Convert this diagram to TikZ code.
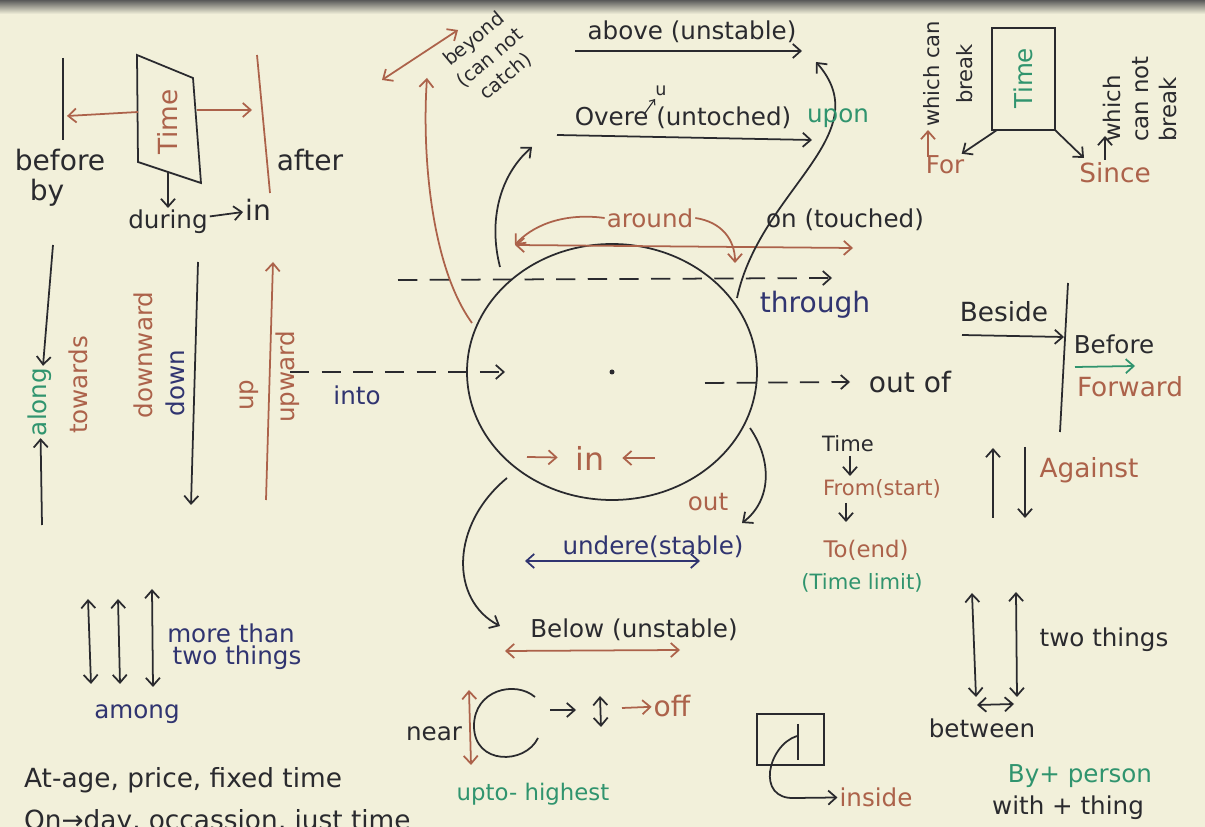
\documentclass[tikz,border=0pt]{standalone}
\usepackage{fontspec}
\setmainfont{DejaVu Sans}
\usepackage{tikz}
\usetikzlibrary{arrows.meta, positioning}

\definecolor{paper}{RGB}{242,240,218}
\definecolor{ink}{RGB}{42,42,46}
\definecolor{brownink}{RGB}{172,98,74}
\definecolor{blueink}{RGB}{48,52,112}
\definecolor{greenink}{RGB}{48,148,110}

\begin{document}
\begin{tikzpicture}[
    x=0.02cm, y=-0.02cm,
    every node/.style={font=\fontsize{14}{16}\selectfont, inner sep=1pt, text=ink},
    big/.style={font=\fontsize{16}{18}\selectfont},
    small/.style={font=\fontsize{12}{15}\selectfont},
    brn/.style={text=brownink},
    blu/.style={text=blueink},
    grn/.style={text=greenink},
    pen/.style={draw=ink, line width=1pt},
    arrow/.style={pen, -{Straight Barb[length=4.5pt,width=8pt]}},
    biarrow/.style={pen, {Straight Barb[length=4.5pt,width=8pt]}-{Straight Barb[length=4.5pt,width=8pt]}},
    dashline/.style={arrow, dash pattern=on 11pt off 7pt}
  ]

  \fill[paper] (0,0) rectangle (1205,827);
  \shade[top color=black!65, bottom color=paper] (0,0) rectangle (1205,14);
  \useasboundingbox (0,0) rectangle (1205,827);

  % before / after / during
  \coordinate (pa) at (137,55);
  \coordinate (pb) at (193,78);
  \coordinate (pc) at (201,183);
  \coordinate (pd) at (138,162);
  \draw[pen] (pa) -- (pb) -- (pc) -- (pd) -- cycle;
  \node[brn, font=\fontsize{15}{17}\selectfont, rotate=90] (time) at (168,122) {Time};
  \coordinate (tl) at (138,112);
  \coordinate (tlx) at (67,116);
  \coordinate (tr) at (197,110);
  \coordinate (trx) at (252,110);
  \coordinate (tb) at (168,172);
  \coordinate (bf1) at (63,58);
  \coordinate (bf2) at (63,140);
  \coordinate (af1) at (257,55);
  \coordinate (af2) at (270,193);
  \draw[pen] (bf1) -- (bf2);
  \draw[pen, draw=brownink] (af1) -- (af2);
  \draw[arrow, draw=brownink] (tl) -- (tlx);
  \draw[arrow, draw=brownink] (tr) -- (trx);
  \node[big] (before) at (60,160) {before};
  \node[big] (by) at (47,193) {by};
  \node[big] (after) at (310,160) {after};
  \node (during) at (168,222) {during};
  \node[big] (in1) at (258,210) {in};
  \draw[arrow] (tb) -- (during);
  \draw[arrow] (during) -- (in1);

  % left verticals
  \coordinate (al1) at (53,245);
  \coordinate (al3) at (42,525);
  \node[grn, rotate=90] (along) at (40,402) {along};
  \draw[arrow] (al1) -- (along);
  \draw[arrow] (al3) -- (along);
  \node[brn, rotate=90] (towards) at (78,385) {towards};
  \node[brn, rotate=90] (downward) at (143,355) {downward};
  \node[blu, rotate=90] (down) at (175,383) {down};
  \coordinate (dn1) at (198,262);
  \coordinate (dn2) at (191,505);
  \draw[arrow] (dn1) -- (dn2);
  \node[brn, rotate=90] (up) at (249,395) {up};
  \node[brn, rotate=90] (upward) at (288,377) {upward};
  \coordinate (up1) at (266,500);
  \coordinate (up2) at (273,262);
  \draw[arrow, draw=brownink] (up1) -- (up2);
  \coordinate (into1) at (290,372);
  \coordinate (into2) at (505,372);
  \draw[dashline] (into1) -- (into2);
  \node[blu] (into) at (357,395) {into};

  % circle
  \coordinate (ctr) at (612,372);
  \draw[pen] (ctr) ellipse [x radius=145, y radius=128];
  \fill[ink] (ctr) circle [radius=2.5];

  \coordinate (th1) at (398,280);
  \coordinate (th2) at (832,278);
  \draw[dashline] (th1) -- (th2);
  \node[blu, big] (through) at (815,305) {through};

  \coordinate (ar1) at (515,245);
  \coordinate (ar2) at (853,248);
  \coordinate (ar3) at (735,263);
  \draw[biarrow, draw=brownink] (ar1) -- (ar2);
  \node[brn] (around) at (650,218) {around};
  \draw[arrow, draw=brownink] (around.west) .. controls (560,212) and (530,228) .. (ar1);
  \draw[arrow, draw=brownink] (around.east) .. controls (722,222) and (735,240) .. (ar3);

  \node (on) at (845,220) {on (touched)};
  \coordinate (on1) at (737,298);
  \coordinate (on2) at (816,62);
  \draw[arrow] (on1) .. controls (760,190) and (880,135) .. (on2);

  \node (above) at (692,32) {above (unstable)};
  \coordinate (ab1) at (575,51);
  \coordinate (ab2) at (802,51);
  \draw[arrow] (ab1) -- (ab2);

  \node (over) at (683,118) {Overe (untoched)};
  \node[grn] (upon) at (838,118) {upon};
  \node[font=\fontsize{10}{12}\selectfont] (uins) at (661,91) {u};
  \coordinate (uc1) at (645,113);
  \coordinate (uc2) at (655,99);
  \draw[pen, line width=0.6pt, -{Straight Barb[length=2.5pt,width=4pt]}] (uc1) -- (uc2);
  \coordinate (ov1) at (557,135);
  \coordinate (ov2) at (812,140);
  \draw[arrow] (ov1) -- (ov2);
  \coordinate (c1) at (500,267);
  \coordinate (c2) at (532,147);
  \draw[arrow] (c1) .. controls (488,220) and (500,175) .. (c2);

  \node[rotate=40, align=center, font=\fontsize{11}{14}\selectfont] (beyond) at (490,58) {beyond\\(can not\\catch)};
  \coordinate (by1) at (382,80);
  \coordinate (by2) at (458,30);
  \draw[biarrow, draw=brownink] (by1) -- (by2);
  \coordinate (bc1) at (472,323);
  \coordinate (bc2) at (427,78);
  \draw[arrow, draw=brownink] (bc1) .. controls (430,265) and (422,150) .. (bc2);

  \coordinate (of1) at (705,383);
  \coordinate (of2) at (850,382);
  \draw[dashline] (of1) -- (of2);
  \node[big] (outof) at (910,382) {out of};

  \node[brn, font=\fontsize{18}{20}\selectfont] (in2) at (590,458) {in};
  \coordinate (ia) at (527,457);
  \coordinate (ib) at (655,458);
  \draw[arrow, draw=brownink, shorten >=9pt] (ia) -- (in2);
  \draw[arrow, draw=brownink, shorten >=9pt] (ib) -- (in2);

  \coordinate (ou1) at (750,428);
  \coordinate (ou2) at (742,523);
  \draw[arrow] (ou1) .. controls (772,460) and (772,500) .. (ou2);
  \node[brn] (out) at (708,502) {out};

  \coordinate (bl1) at (507,478);
  \coordinate (bl2) at (500,626);
  \draw[arrow] (bl1) .. controls (450,525) and (450,600) .. (bl2);

  \node[blu] (under) at (653,547) {undere(stable)};
  \coordinate (un1) at (525,561);
  \coordinate (un2) at (700,561);
  \draw[biarrow, draw=blueink] (un1) -- (un2);

  \node (below) at (634,630) {Below (unstable)};
  \coordinate (be1) at (505,651);
  \coordinate (be2) at (680,650);
  \draw[biarrow, draw=brownink] (be1) -- (be2);

  % near / off / upto
  \coordinate (ne1) at (469,690);
  \coordinate (ne2) at (471,765);
  \draw[biarrow, draw=brownink] (ne1) -- (ne2);
  \node (near) at (434,734) {near};
  \coordinate (ca) at (535,697);
  \coordinate (cb) at (538,738);
  \draw[pen] (ca) .. controls (515,680) and (474,690) .. (474,726) .. controls (474,765) and (525,765) .. (cb);
  \coordinate (na1) at (550,710);
  \coordinate (na2) at (576,710);
  \draw[arrow] (na1) -- (na2);
  \coordinate (ud1) at (600,696);
  \coordinate (ud2) at (601,727);
  \draw[biarrow] (ud1) -- (ud2);
  \node[brn, big] (off) at (672,706) {off};
  \coordinate (of3) at (622,708);
  \draw[arrow, draw=brownink] (of3) -- (off);
  \node[grn, font=\fontsize{13}{15}\selectfont] (upto) at (533,794) {upto- highest};

  % inside
  \coordinate (ib1) at (757,714);
  \coordinate (ib2) at (824,765);
  \draw[pen] (ib1) rectangle (ib2);
  \coordinate (iv1) at (798,724);
  \coordinate (iv2) at (798,760);
  \draw[pen] (iv1) -- (iv2);
  \node[brn] (inside) at (876,797) {inside};
  \coordinate (is1) at (797,736);
  \draw[arrow] (is1) .. controls (768,745) and (755,800) .. (795,798) -- (inside);

  % for / since
  \coordinate (ra) at (992,28);
  \coordinate (rb) at (1055,130);
  \draw[pen] (ra) rectangle (rb);
  \node[grn, rotate=90] (time2) at (1023,78) {Time};
  \coordinate (rbl) at (997,130);
  \coordinate (rbr) at (1055,130);
  \node[brn] (for) at (945,165) {For};
  \draw[arrow] (rbl) -- (for);
  \coordinate (f1) at (928,157);
  \coordinate (f2) at (928,130);
  \draw[arrow, draw=brownink] (f1) -- (f2);
  \node[small, rotate=90, align=center, font=\fontsize{12}{19}\selectfont] (wcb) at (948,74) {which can\\break};
  \node[brn, font=\fontsize{15}{17}\selectfont] (since) at (1115,173) {Since};
  \coordinate (sn) at (1084,158);
  \draw[arrow] (rbr) -- (sn);
  \coordinate (s1) at (1105,160);
  \coordinate (s2) at (1105,136);
  \draw[arrow] (s1) -- (s2);
  \node[rotate=90, align=left, font=\fontsize{13}{16}\selectfont] (wcnb) at (1140,99) {which\\can not\\break};

  % beside / before / forward
  \node[font=\fontsize{15}{17}\selectfont] (beside) at (1004,312) {Beside};
  \coordinate (bs1) at (962,335);
  \coordinate (bs2) at (1064,337);
  \draw[arrow] (bs1) -- (bs2);
  \coordinate (vl1) at (1068,283);
  \coordinate (vl2) at (1060,432);
  \draw[pen] (vl1) -- (vl2);
  \node (before2) at (1114,344) {Before};
  \coordinate (fw1) at (1075,367);
  \coordinate (fw2) at (1135,366);
  \draw[arrow, draw=greenink] (fw1) -- (fw2);
  \node[brn, font=\fontsize{15}{17}\selectfont] (forward) at (1130,387) {Forward};

  % against
  \coordinate (ag1) at (993,518);
  \coordinate (ag2) at (993,448);
  \coordinate (ag3) at (1025,447);
  \coordinate (ag4) at (1025,518);
  \draw[arrow] (ag1) -- (ag2);
  \draw[arrow] (ag3) -- (ag4);
  \node[brn, font=\fontsize{15}{17}\selectfont] (against) at (1089,470) {Against};

  % from / to
  \node[small] (time3) at (848,444) {Time};
  \node[brn, small] (from) at (882,489) {From(start)};
  \node[brn, font=\fontsize{13}{15}\selectfont] (to) at (866,550) {To(end)};
  \node[grn, small] (limit) at (862,583) {(Time limit)};
  \coordinate (tf1) at (850,456);
  \coordinate (tf2) at (850,476);
  \coordinate (tf3) at (846,503);
  \coordinate (tf4) at (846,522);
  \draw[arrow] (tf1) -- (tf2);
  \draw[arrow] (tf3) -- (tf4);

  % between
  \coordinate (bw1) at (972,593);
  \coordinate (bw2) at (976,697);
  \coordinate (bw3) at (1016,592);
  \coordinate (bw4) at (1017,697);
  \coordinate (bw5) at (977,705);
  \coordinate (bw6) at (1014,704);
  \draw[biarrow] (bw1) -- (bw2);
  \draw[biarrow] (bw3) -- (bw4);
  \draw[biarrow] (bw5) -- (bw6);
  \node (twothings) at (1104,640) {two things};
  \node (between) at (982,728) {between};
  \node[grn] (byperson) at (1080,776) {By+ person};
  \node (withthing) at (1068,808) {with + thing};

  % among
  \coordinate (am1) at (88,599);
  \coordinate (am2) at (91,684);
  \coordinate (am3) at (118,599);
  \coordinate (am4) at (120,684);
  \coordinate (am5) at (152,589);
  \coordinate (am6) at (153,687);
  \draw[biarrow] (am1) -- (am2);
  \draw[biarrow] (am3) -- (am4);
  \draw[biarrow] (am5) -- (am6);
  \node[blu] (more) at (231,633) {more than};
  \node[blu] (two) at (237,658) {two things};
  \node[blu] (among) at (137,714) {among};

  % at / on
  \node[anchor=west, font=\fontsize{15}{17}\selectfont] (atline) at (22,780) {At-age, price, fixed time};
  \node[anchor=west, font=\fontsize{15}{17}\selectfont] (online) at (22,822) {On→day, occassion, just time};

\end{tikzpicture}
\end{document}
